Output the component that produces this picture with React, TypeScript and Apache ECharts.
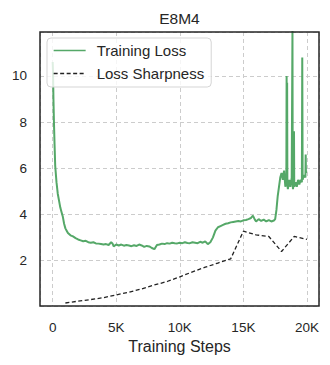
import React, { useEffect, useRef } from "react";
import * as echarts from "echarts";

const title = "E8M4";
const xAxisName = "Training Steps";
const seriesNames = ["Training Loss", "Loss Sharpness"];

const lossSteps = [
  0, 30, 60, 100, 150, 200, 300, 400, 500, 600, 700, 800, 900, 1000, 1100, 1200, 1400, 1600, 1800, 2000,
  2200, 2400, 2600, 2800, 3000, 3200, 3400, 3600, 3800, 4000, 4200, 4400, 4600, 4700, 4800, 5000, 5200,
  5400, 5600, 5800, 6000, 6200, 6400, 6600, 6800, 7000, 7200, 7400, 7600, 7800, 8000, 8200, 8400, 8600,
  8800, 9000, 9200, 9400, 9600, 9800, 10000, 10200, 10400, 10600, 10800, 11000, 11200, 11400, 11600,
  11800, 12000, 12200, 12400, 12600, 12800, 13000, 13200, 13400, 13600, 13800, 14000, 14200, 14400,
  14600, 14800, 15000, 15200, 15400, 15600, 15750, 15900, 16000, 16200, 16400, 16600, 16800, 17000,
  17200, 17400, 17500, 17600, 17700, 17800, 17900, 18000, 18100, 18200, 18300, 18380, 18400, 18420,
  18440, 18460, 18500, 18600, 18700, 18800, 18860, 18880, 18900, 18960, 18980, 19000, 19100, 19200,
  19300, 19400, 19500, 19600, 19630, 19660, 19700, 19800, 19880, 19900, 19920, 19950,
];
const lossValues = [
  10.6, 10.1, 9.0, 8.0, 7.0, 6.1, 5.4, 4.9, 4.6, 4.3, 4.1, 3.9, 3.6, 3.4, 3.3, 3.2, 3.1, 3.05, 2.98, 2.92,
  2.88, 2.84, 2.86, 2.8, 2.78, 2.8, 2.75, 2.74, 2.72, 2.7, 2.72, 2.68, 2.8, 2.75, 2.62, 2.7, 2.66,
  2.7, 2.65, 2.68, 2.66, 2.63, 2.67, 2.64, 2.7, 2.66, 2.6, 2.64, 2.62, 2.55, 2.5, 2.68, 2.7, 2.74,
  2.72, 2.76, 2.74, 2.78, 2.76, 2.75, 2.78, 2.76, 2.8, 2.77, 2.76, 2.8, 2.78, 2.76, 2.82,
  2.78, 2.84, 2.72, 2.8, 3.0, 3.3, 3.45, 3.5, 3.55, 3.6, 3.62, 3.66, 3.68, 3.7,
  3.72, 3.7, 3.75, 3.76, 3.8, 3.85, 3.95, 3.78, 3.7, 3.8, 3.72, 3.78, 3.7, 3.76,
  3.7, 3.74, 3.8, 4.2, 4.8, 5.2, 5.6, 5.8, 5.5, 5.9, 5.2, 5.6, 10.0, 5.4,
  9.7, 5.3, 5.1, 5.5, 5.2, 5.6, 11.95, 5.3, 5.1, 5.4, 7.6, 5.2, 5.4, 5.2,
  5.5, 5.3, 5.5, 5.4, 10.8, 5.5, 5.6, 5.7, 5.6, 6.6, 5.8, 5.9,
];

const sharpSteps = [
  1000, 2000, 3000, 4000, 5000, 6000, 7000, 8000, 9000, 10000, 11000, 12000, 13000, 14000, 15000, 16000,
  17000, 18000, 19000, 20000,
];
const sharpValues = [
  0.17, 0.25, 0.32, 0.4, 0.52, 0.64, 0.78, 0.95, 1.1, 1.3, 1.52, 1.72, 1.9, 2.08, 3.28, 3.12, 3.05, 2.4,
  3.05, 2.92,
];

const FONT = "'Liberation Sans', Arial, sans-serif";
const INK = "#262626";

export default function App() {
  const ref = useRef<HTMLDivElement>(null);
  useEffect(() => {
    document.body.style.margin = "0";
    const chart = echarts.init(ref.current!, null, { renderer: "svg" });
    const grid = { left: 40, top: 32, width: 279, height: 274 };
    chart.setOption({
      animation: false,
      textStyle: { fontFamily: FONT },
      grid,
      graphic: [
        {
          type: "text",
          x: 179.5,
          y: 18,
          z: 10,
          style: {
            text: title,
            fontSize: 15.5,
            fontFamily: FONT,
            fill: INK,
            align: "center",
            verticalAlign: "middle",
          },
        },
        {
          type: "rect",
          z: 100,
          shape: { x: grid.left, y: grid.top, width: grid.width, height: grid.height },
          style: { fill: "none", stroke: INK, lineWidth: 1.5 },
          silent: true,
        },
      ],
      legend: {
        orient: "vertical",
        left: 47,
        top: 38,
        itemWidth: 32,
        itemHeight: 14,
        itemGap: 8,
        padding: [5, 7, 6, 6],
        backgroundColor: "rgba(255,255,255,0.8)",
        borderColor: "#d5d5d5",
        borderWidth: 1,
        borderRadius: 4,
        itemStyle: { opacity: 0, color: "transparent", borderWidth: 0 },
        lineStyle: { width: 1.3 },
        textStyle: { fontSize: 15, color: INK, fontFamily: FONT, padding: [0, 0, 0, 6] },
        data: seriesNames,
      },
      xAxis: {
        type: "value",
        min: -997,
        max: 20947,
        splitNumber: 4,
        axisLine: { show: false },
        axisTick: { show: false },
        axisLabel: {
          showMinLabel: false,
          showMaxLabel: false,
          fontSize: 13.5,
          color: INK,
          margin: 14,
          fontFamily: FONT,
          formatter: (v: number) => (v === 0 ? "0" : v / 1000 + "K"),
        },
        splitLine: { show: true, lineStyle: { color: "#cccccc", type: [4, 3], width: 1 } },
        name: xAxisName,
        nameLocation: "middle",
        nameGap: 29,
        nameTextStyle: { fontSize: 16, color: INK, fontFamily: FONT },
      },
      yAxis: {
        type: "value",
        min: 0.04,
        max: 11.9,
        splitNumber: 5,
        axisLine: { show: false },
        axisTick: { show: false },
        axisLabel: {
          showMinLabel: false,
          showMaxLabel: false,
          fontSize: 13.5,
          color: INK,
          margin: 13,
          fontFamily: FONT,
        },
        splitLine: { show: true, lineStyle: { color: "#cccccc", type: [4, 3], width: 1 } },
      },
      series: [
        {
          type: "line",
          name: seriesNames[0],
          data: lossSteps.map((s, i) => [s, lossValues[i]]),
          symbol: "none",
          clip: true,
          color: "#55a868",
          lineStyle: { color: "#55a868", width: 2 },
          z: 3,
        },
        {
          type: "line",
          name: seriesNames[1],
          data: sharpSteps.map((s, i) => [s, sharpValues[i]]),
          symbol: "none",
          color: "#222222",
          lineStyle: { color: "#222222", width: 1.3, type: [4, 2.5] },
          z: 4,
        },
      ],
    });
    return () => chart.dispose();
  }, []);
  return <div ref={ref} style={{ width: 330, height: 365 }} />;
}
